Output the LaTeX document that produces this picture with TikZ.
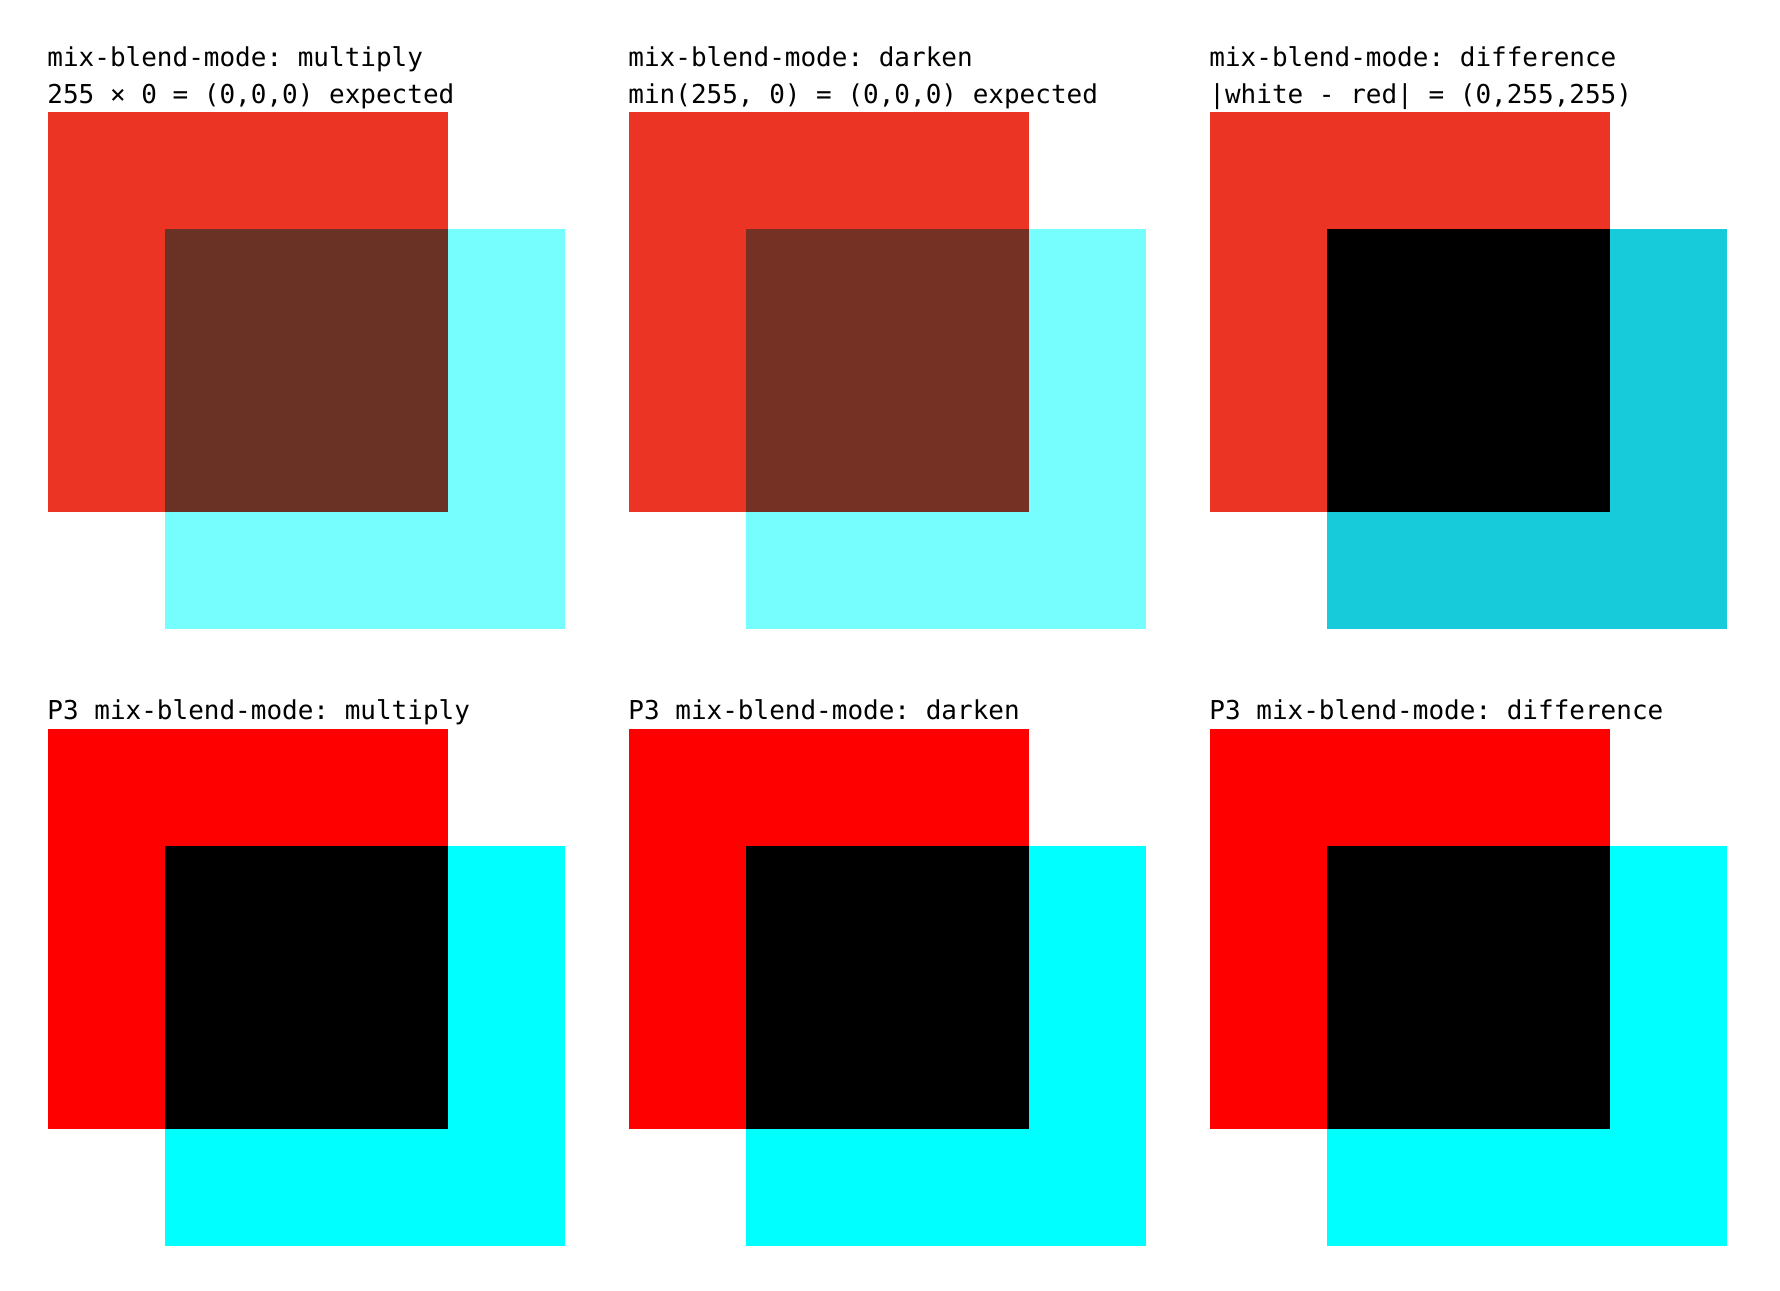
\documentclass[tikz,border=0pt]{standalone}
\usepackage{fontspec}
\setmonofont{DejaVu Sans Mono}
\definecolor{sred}{RGB}{236,52,37}
\definecolor{scyan}{RGB}{118,253,254}
\definecolor{mulmix}{RGB}{106,50,36}
\definecolor{darkmix}{RGB}{117,50,36}
\definecolor{dcyan}{RGB}{23,203,218}
\definecolor{pred}{RGB}{255,0,0}
\definecolor{pcyan}{RGB}{0,255,255}
\begin{document}
\begin{tikzpicture}[x=0.5pt,y=-0.5pt,
  lbl/.style={anchor=base west, inner sep=0pt, font=\ttfamily\fontsize{13}{18}\selectfont}]
\useasboundingbox (0,0) rectangle (1780,1290);
\fill[white] (0,0) rectangle (1780,1290);
% top row
\foreach \x/\cy/\ov in {48/scyan/mulmix, 629/scyan/darkmix, 1210/dcyan/black}{
  \fill[sred] (\x,112) rectangle ++(400,400);
  \fill[\cy] (\x+117,229) rectangle ++(400,400);
  \fill[\ov] (\x+117,229) rectangle (\x+400,512);
}
% bottom row
\foreach \x in {48,629,1210}{
  \fill[pred] (\x,729) rectangle ++(400,400);
  \fill[pcyan] (\x+117,846) rectangle ++(400,400);
  \fill[black] (\x+117,846) rectangle (\x+400,1129);
}
\node[lbl] (t1a) at (47,66.5) {mix-blend-mode: multiply};
\node[lbl] (t1b) at (47,103) {255 × 0 = (0,0,0) expected};
\node[lbl] (t2a) at (628,66.5) {mix-blend-mode: darken};
\node[lbl] (t2b) at (628,103) {min(255, 0) = (0,0,0) expected};
\node[lbl] (t3a) at (1209,66.5) {mix-blend-mode: difference};
\node[lbl] (t3b) at (1209,103) {|white - red| = (0,255,255)};
\node[lbl] (b1) at (47,719) {P3 mix-blend-mode: multiply};
\node[lbl] (b2) at (628,719) {P3 mix-blend-mode: darken};
\node[lbl] (b3) at (1209,719) {P3 mix-blend-mode: difference};
\end{tikzpicture}
\end{document}
